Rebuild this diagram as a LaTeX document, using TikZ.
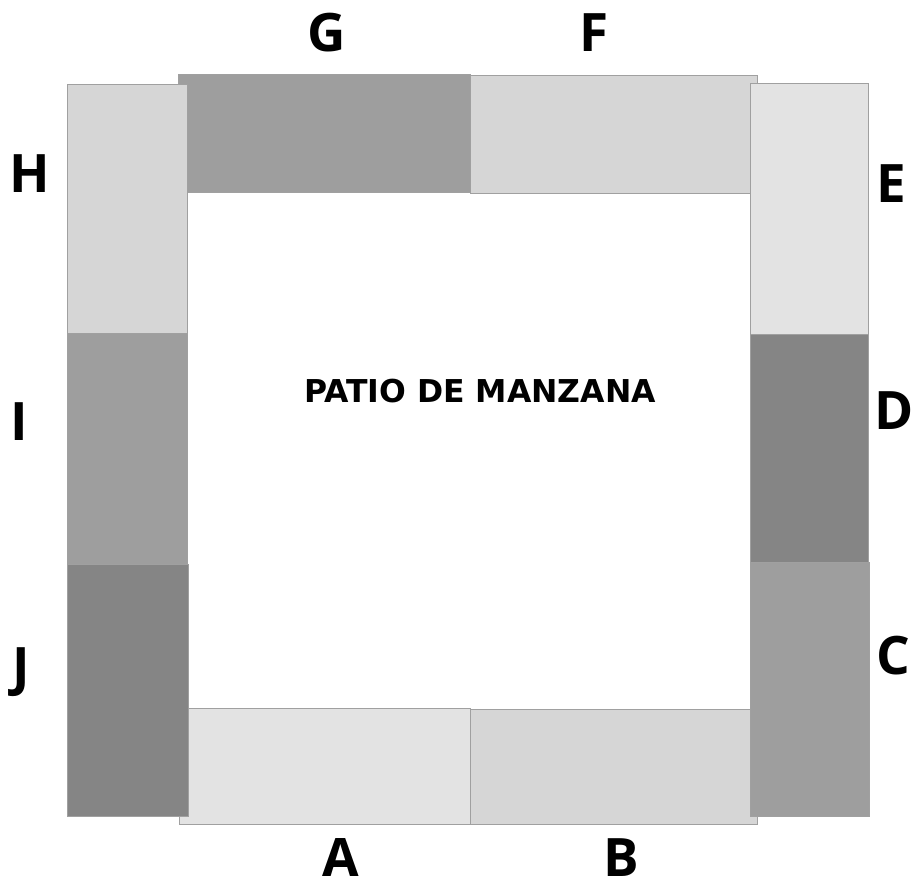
\documentclass[tikz,border=0pt]{standalone}
\usepackage{fontspec}
\setmainfont{Open Sans}[BoldFont={Open Sans Bold}]
\newfontfamily\patiofont{DejaVu Sans}
\usepackage{xcolor}
\usepackage{tikz}
\usetikzlibrary{positioning}

\definecolor{tonea}{HTML}{E3E3E3}
\definecolor{toneb}{HTML}{D6D6D6}
\definecolor{tonec}{HTML}{9E9E9E}
\definecolor{toned}{HTML}{858585}
\definecolor{edgegray}{HTML}{A0A0A0}

\tikzset{
  block/.style={draw=edgegray, line width=0.8pt, inner sep=0pt},
  letter/.style={inner sep=0pt, anchor=base, font=\fontsize{53}{60}\selectfont\bfseries}
}

\begin{document}
\begin{tikzpicture}[x=1pt,y=-1pt]
\useasboundingbox (0,0) rectangle (914,883);

% rows at top and bottom
\node[block, fill=tonec, minimum width=292pt, minimum height=118pt] at (324,133) (blockG) {};
\node[block, fill=toneb, minimum width=287pt, minimum height=118pt] at (613.5,134) (blockF) {};
\node[block, fill=tonea, minimum width=291pt, minimum height=116pt] at (324.5,766) (blockA) {};
\node[block, fill=toneb, minimum width=287pt, minimum height=115pt] at (613.5,766.5) (blockB) {};

% left column
\node[block, fill=toneb, minimum width=120pt, minimum height=249pt] at (127,208.5) (blockH) {};
\node[block, fill=tonec, minimum width=120pt, minimum height=231pt] at (127,448.5) (blockI) {};
\node[block, fill=toned, minimum width=121pt, minimum height=252pt] at (127.5,690) (blockJ) {};

% right column
\node[block, fill=tonea, minimum width=118pt, minimum height=251pt] at (809,208.5) (blockE) {};
\node[block, fill=toned, minimum width=118pt, minimum height=228pt] at (809,448) (blockD) {};
\node[block, fill=tonec, minimum width=119pt, minimum height=254pt] at (809.5,689) (blockC) {};

% letters, placed on their baselines
\node[letter] at (327,52) (labelG) {G};
\node[letter] at (594,52) (labelF) {F};
\node[letter] at (30,192) (labelH) {H};
\node[letter] at (891,202) (labelE) {E};
\node[letter] at (19,440) (labelI) {I};
\node[letter] at (894,429) (labelD) {D};
\node[letter] at (21,685) (labelJ) {J};
\node[letter] at (893,674) (labelC) {C};
\node[letter] at (341,876) (labelA) {A};
\node[letter] at (621,876) (labelB) {B};

\node[inner sep=0pt, font=\patiofont\fontsize{31.5}{36}\selectfont\bfseries] at (480,391) (patio) {PATIO DE MANZANA};

\end{tikzpicture}
\end{document}
